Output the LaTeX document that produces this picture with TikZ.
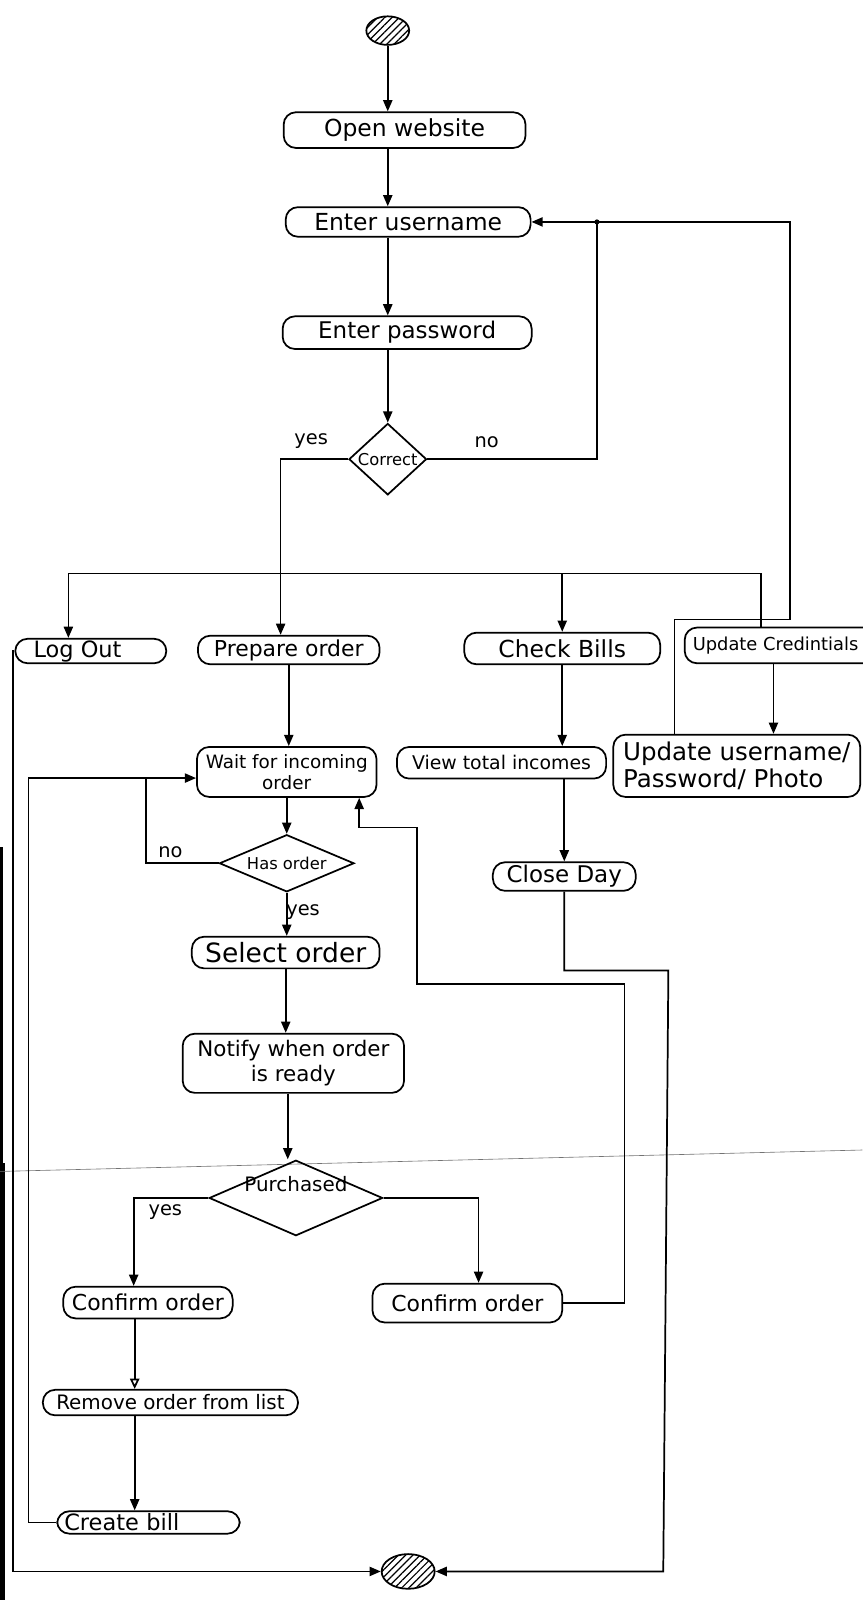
\documentclass[tikz,border=0pt]{standalone}
\usepackage{fontspec}
\setmainfont{DejaVu Sans}
\usetikzlibrary{arrows.meta,shapes.geometric,patterns.meta}

\begin{document}
\begin{tikzpicture}[x=1pt,y=-1pt,
  line width=1.7pt,
  act/.style={draw, rounded corners=12pt, inner sep=0pt, align=center,
              font=\fontsize{22}{26}\selectfont},
  dec/.style={draw, diamond, inner sep=0pt},
  term/.style={draw, ellipse, inner sep=0pt,
               pattern={Lines[angle=45,distance=5pt,line width=1.2pt]}},
  flow/.style={-{Triangle[length=11pt,width=9pt]}},
  hollow/.style={-{Triangle[open,length=10pt,width=9pt]}},
  lbl/.style={font=\fontsize{19}{22}\selectfont}
]
\useasboundingbox (0,0) rectangle (845,1568);
\fill[white] (0,0) rectangle (845,1568);

% scanner edge and paper crease
\fill[black] (0,830) rectangle (2.5,1140);
\fill[black] (0,1140) rectangle (5,1568);
\draw[black!55, line width=0.6pt] (0,1148) -- (845,1127);

% ---- nodes ----
\node[term, minimum width=42pt, minimum height=28pt] (start) at (380,30) {};
\node[act, minimum width=237pt, minimum height=35pt, font=\fontsize{23}{26}\selectfont] (open) at (396.5,127.5) {Open website};
\node[act, minimum width=240pt, minimum height=29pt, font=\fontsize{23}{26}\selectfont] (user) at (400,217.5) {Enter username};
\node[act, minimum width=244pt, minimum height=32pt, font=\fontsize{22.5}{26}\selectfont] (pass) at (399,326) {Enter password};
\node[dec, minimum width=76pt, minimum height=70pt,
      label={[font=\fontsize{16}{18}\selectfont]center:Correct}] (correct) at (380,450) {};

\node[act, minimum width=148pt, minimum height=24pt, font=\fontsize{22}{26}\selectfont] (logout) at (89,638) {Log Out\hspace*{26pt}};
\node[act, minimum width=178pt, minimum height=28pt, font=\fontsize{21.5}{25}\selectfont] (prep) at (283,637) {Prepare order};
\node[act, minimum width=192pt, minimum height=31pt, font=\fontsize{23}{26}\selectfont] (bills) at (551,635.5) {Check Bills};
\node[act, minimum width=240pt, minimum height=35pt, font=\fontsize{17.5}{20}\selectfont] (upcred) at (791,632.5) {\hspace*{-62pt}Update Credintials};

\node[act, minimum width=176pt, minimum height=49pt,
      font=\fontsize{18}{21}\selectfont] (wait) at (281,756.5) {Wait for incoming\\order};
\node[act, minimum width=205pt, minimum height=31pt,
      font=\fontsize{18.5}{21}\selectfont] (view) at (491.5,747.5) {View total incomes};
\node[act, minimum width=242pt, minimum height=61pt, align=left,
      font=\fontsize{24}{27}\selectfont] (upd) at (722,750.5) {Update username/\\Password/ Photo};

\node[dec, minimum width=132pt, minimum height=56pt,
      label={[font=\fontsize{16}{18}\selectfont]center:Has order}] (hasord) at (281,846) {};
\node[act, minimum width=140pt, minimum height=28pt, font=\fontsize{22.5}{25}\selectfont] (close) at (553,859) {Close Day};

\node[act, minimum width=184pt, minimum height=31pt, font=\fontsize{26}{30}\selectfont] (select) at (280,933.5) {Select order};
\node[act, minimum width=217pt, minimum height=58pt,
      font=\fontsize{21}{25}\selectfont] (notify) at (287.5,1042) {Notify when order\\is ready};

\node[dec, minimum width=170pt, minimum height=74pt,
      label={[font=\fontsize{19.5}{22}\selectfont, yshift=14pt]center:Purchased}] (purch) at (290,1174) {};

\node[act, minimum width=166pt, minimum height=31pt, font=\fontsize{21.5}{25}\selectfont] (confL) at (145,1276.5) {Confirm order};
\node[act, minimum width=186pt, minimum height=38pt, font=\fontsize{21.5}{25}\selectfont] (confR) at (458,1277) {Confirm order};
\node[act, minimum width=250pt, minimum height=25pt, font=\fontsize{19.5}{23}\selectfont] (remove) at (167,1374.5) {Remove order from list};
\node[act, minimum width=179pt, minimum height=22pt, text width=165pt, align=left,
      font=\fontsize{22}{24}\selectfont] (create) at (145.5,1492) {Create bill};

\node[term, minimum width=52pt, minimum height=34pt] (end) at (400,1540) {};

% ---- guard labels ----
\node[lbl] (lyes1) at (305,432) {yes};
\node[lbl] (lno1)  at (477,433) {no};
\node[lbl] (lno2)  at (167,835) {no};
\node[lbl] (lyes2) at (297,894) {yes};
\node[lbl] (lyes3) at (162,1188) {yes};

% ---- helper points ----
\coordinate (join) at (585,217.5);
\coordinate (forkL) at (67,562);
\coordinate (forkR) at (746,562);
\coordinate (loopX) at (143,762.5);
\coordinate (credX) at (758,0);
\coordinate (credUp) at (774,607);
\coordinate (billA) at (553,951);
\coordinate (billB) at (655,951);
\coordinate (billC) at (650,1540);
\coordinate (retA) at (612,1277);
\coordinate (retB) at (612,964);
\coordinate (retC) at (409,964);
\coordinate (retD) at (409,811);
\coordinate (retE) at (352,811);
\coordinate (billX) at (28,1492);
\coordinate (billY) at (28,762.5);
\coordinate (outX) at (13,0);

% ---- login ----
\draw[flow] (start.south) -- (start.south |- open.north);
\draw[flow] (start.south |- open.south) -- (start.south |- user.north);
\draw[flow] (start.south |- user.south) -- (start.south |- pass.north);
\draw[flow] (start.south |- pass.south) -- (correct.north);
\draw[flow] (correct.west) -| ([xshift=-8pt]prep.north);
\draw[flow] (correct.east) -| (join) -- (user.east);
\fill (join) circle (2.5pt);

% ---- menu fork ----
\draw (forkL) -- (forkR) -- (forkR |- upcred.north);
\draw[flow] (forkL) -- (forkL |- logout.north);
\draw[flow] (bills.north |- forkL) -- (bills.north);

% ---- credentials ----
\draw[flow] (credX |- upcred.south) -- (credX |- upd.north);
\draw ([xshift=-61pt]upd.north) |- (credUp) |- (join);

% ---- bills ----
\draw[flow] (bills.south) -- (bills.south |- view.north);
\draw[flow] (close.north |- view.south) -- (close.north);
\draw[flow] (close.south) -- (billA) -- (billB) -- (billC) -- (end.east);

% ---- orders ----
\draw[flow] (prep.south) -- (prep.south |- wait.north);
\draw[flow] (wait.south) -- (hasord.north);
\draw[flow] (hasord.west) -| (loopX) -- (loopX -| wait.west);
\draw[flow] (hasord.south) -- (hasord.south |- select.north);
\draw[flow] (select.south) -- (select.south |- notify.north);
\draw[flow] ([xshift=-5.5pt]notify.south) -- ([xshift=-5.5pt]notify.south |- purch.north);
\draw[flow] (purch.west) -| ([xshift=-14pt]confL.north);
\draw[flow] (purch.east) -| ([xshift=11pt]confR.north);
\draw[hollow] ([xshift=-13pt]confL.south) -- ([xshift=-13pt]confL.south |- remove.north);
\draw[flow] ([xshift=-13pt]confL.south |- remove.south) -- ([xshift=-13pt]confL.south |- create.north);
\draw (create.west) -- (billX) -- (billY) -- (loopX);
\draw[flow] (confR.east) -- (retA) -- (retB) -- (retC) -- (retD) -- (retE) -- (retE |- wait.south);

% ---- logout ----
\draw[flow] (logout.west) -- (outX |- logout.west) |- (end.west);

\end{tikzpicture}
\end{document}
